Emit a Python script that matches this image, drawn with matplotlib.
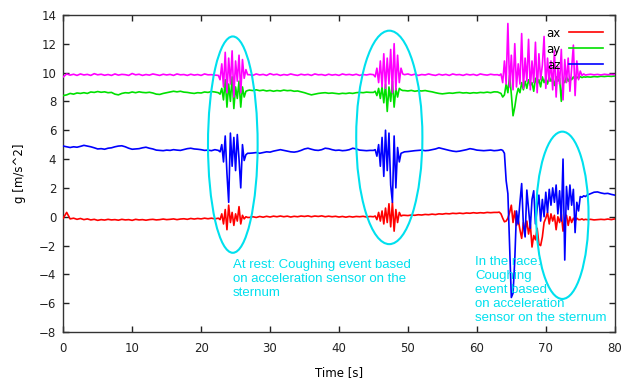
import numpy as np
import matplotlib
matplotlib.use("Agg")
import matplotlib.pyplot as plt
from matplotlib.patches import Ellipse

# Time base [s]: 0.5 s where the signal is quiet, 0.25 s around the cough events
time_s = np.concatenate([
    np.arange(0, 22.5, 0.5),      # 0 .. 22
    np.arange(22.5, 27, 0.25),    # 22.5 .. 26.75  (cough 1)
    np.arange(27, 45, 0.5),       # 27 .. 44.5
    np.arange(45, 49.5, 0.25),    # 45 .. 49.25    (cough 2)
    np.arange(49.5, 63, 0.5),     # 49.5 .. 62.5
    np.arange(63, 76, 0.25),      # 63 .. 75.75    (race)
    np.arange(76, 80.5, 0.5),     # 76 .. 80
])

ax_vals = [
    -0.1, 0.3, -0.15, -0.1, -0.18, -0.12, -0.2, -0.15, -0.22, -0.18,
    -0.25, -0.2, -0.23, -0.18, -0.22, -0.2, -0.24, -0.18, -0.22, -0.2,
    -0.25, -0.18, -0.22, -0.2, -0.24, -0.2, -0.18, -0.22, -0.2, -0.16,
    -0.2, -0.18, -0.15, -0.2, -0.16, -0.14, -0.18, -0.12, -0.16, -0.12,
    -0.15, -0.1, -0.14, -0.1, -0.15,
    -0.1, -0.2,
    0.2, -0.5, 0.5, -0.9,
    0.8, -0.4, 0.3, -0.6,
    0.2, -0.3, 0.7, -0.5,
    0.1, -0.15, 0.0, -0.05,
    -0.05, 0.0, -0.05, 0.02, -0.03, 0.03, -0.02, 0.04, 0.0, 0.05,
    0.0, 0.04, -0.02, 0.03, 0.0, 0.05, 0.02, 0.06, 0.0, 0.05,
    0.02, 0.06, 0.0, 0.04, 0.0, 0.03, -0.02, 0.02, -0.03, 0.02,
    -0.02, 0.02, 0.0, 0.03, -0.02, 0.02,
    0.0, 0.05, -0.2, 0.3,
    -0.3, 0.4, -0.5, 0.6,
    -0.4, 0.9, -0.7, 1.0,
    -1.0, 0.5, -0.4, 0.3,
    0.05, 0.1,
    0.1, 0.08, 0.12, 0.1, 0.14, 0.12, 0.16, 0.14, 0.18, 0.15,
    0.2, 0.18, 0.22, 0.2, 0.24, 0.22, 0.25, 0.22, 0.26, 0.24,
    0.28, 0.25, 0.28, 0.26, 0.3, 0.28, 0.3,
    0.3, 0.32, 0.2, -0.1,
    -0.35, -0.3, -0.1, 0.3,
    0.8, -0.4, 0.4, -0.6,
    -0.2, -0.9, -1.5, -0.4,
    -1.0, -0.3, -1.2, -0.5,
    -2.1, -1.3, -1.6, -0.8,
    -1.9, -2.0, -1.4, -0.4,
    -0.1, 0.3, -0.5, 0.2,
    -0.3, 0.1, -0.9, 0.0,
    -0.4, 0.2, -1.0, -0.2,
    0.1, -0.6, 0.0, -0.4,
    -0.1, -0.3, -0.1, -0.2,
    -0.2, -0.15, -0.22, -0.18,
    -0.2, -0.18, -0.22, -0.2, -0.18, -0.2, -0.16, -0.2, -0.15,
]

ay_vals = [
    8.4, 8.45, 8.55, 8.5, 8.58, 8.55, 8.6, 8.55, 8.65, 8.62,
    8.68, 8.63, 8.66, 8.6, 8.62, 8.5, 8.45, 8.55, 8.6, 8.58,
    8.65, 8.6, 8.66, 8.62, 8.6, 8.63, 8.58, 8.5, 8.48, 8.55,
    8.6, 8.65, 8.7, 8.66, 8.7, 8.64, 8.62, 8.58, 8.55, 8.6,
    8.58, 8.65, 8.62, 8.68, 8.65,
    8.6, 8.5,
    8.9, 8.1, 9.5, 7.6,
    9.2, 8.0, 9.7, 7.5,
    9.0, 8.2, 9.4, 7.6,
    9.0, 8.3, 8.7, 8.75,
    8.78, 8.75, 8.8, 8.74, 8.78, 8.72, 8.76, 8.7, 8.75, 8.72,
    8.78, 8.74, 8.76, 8.7, 8.72, 8.66, 8.6, 8.52, 8.45, 8.5,
    8.55, 8.58, 8.6, 8.56, 8.58, 8.55, 8.52, 8.56, 8.54, 8.58,
    8.55, 8.6, 8.62, 8.6, 8.64, 8.62,
    8.62, 8.7, 8.4, 8.9,
    8.2, 9.0, 7.9, 9.2,
    7.3, 9.0, 8.0, 9.4,
    7.6, 8.9, 8.3, 8.9,
    8.8, 8.75,
    8.75, 8.72, 8.76, 8.7, 8.74, 8.72, 8.75, 8.7, 8.66, 8.6,
    8.55, 8.52, 8.55, 8.58, 8.56, 8.6, 8.62, 8.58, 8.6, 8.56,
    8.6, 8.58, 8.62, 8.6, 8.64, 8.6, 8.66,
    8.65, 8.6, 8.55, 8.3,
    8.45, 9.2, 8.6, 9.8,
    8.5, 7.0, 7.6, 8.4,
    8.9, 8.6, 9.3, 8.8,
    9.4, 8.9, 9.5, 9.1,
    9.3, 8.7, 9.6, 9.2,
    9.5, 9.0, 9.7, 9.3,
    9.6, 9.2, 9.7, 9.4,
    9.6, 9.1, 9.7, 9.4,
    9.6, 8.0, 9.5, 9.3,
    9.7, 9.4, 9.65, 9.5,
    9.7, 9.5, 9.7, 9.6,
    9.72, 9.65, 9.7, 9.68,
    9.7, 9.68, 9.72, 9.7, 9.74, 9.72, 9.75, 9.73, 9.76,
]

az_vals = [
    4.9, 4.85, 4.8, 4.85, 4.82, 4.88, 4.95, 4.9, 4.85, 4.78,
    4.7, 4.72, 4.68, 4.75, 4.78, 4.85, 4.9, 4.92, 4.85, 4.75,
    4.68, 4.7, 4.72, 4.78, 4.82, 4.75, 4.7, 4.62, 4.6, 4.58,
    4.62, 4.6, 4.65, 4.62, 4.6, 4.66, 4.72, 4.75, 4.7, 4.68,
    4.65, 4.6, 4.62, 4.58, 4.65,
    4.6, 4.5,
    5.0, 3.8, 5.6, 3.0,
    1.0, 5.8, 3.5, 5.5,
    3.2, 5.7, 4.0, 2.0,
    5.0, 3.9, 4.3, 4.4,
    4.4, 4.42, 4.45, 4.4, 4.45, 4.5, 4.48, 4.55, 4.6, 4.65,
    4.6, 4.55, 4.5, 4.48, 4.52, 4.6, 4.7, 4.75, 4.68, 4.62,
    4.6, 4.65, 4.75, 4.72, 4.65, 4.6, 4.62, 4.58, 4.6, 4.65,
    4.75, 4.7, 4.62, 4.6, 4.58, 4.6,
    4.6, 4.65, 4.2, 5.0,
    3.5, 5.5, 2.8, 6.0,
    3.2, 5.8, 2.2, 1.0,
    5.6, 2.0, 4.8, 3.8,
    4.4, 4.45,
    4.5, 4.52, 4.55, 4.58, 4.6, 4.62, 4.58, 4.6, 4.65, 4.7,
    4.78, 4.72, 4.66, 4.6, 4.55, 4.52, 4.55, 4.6, 4.65, 4.72,
    4.68, 4.62, 4.6, 4.58, 4.6, 4.62, 4.58,
    4.6, 4.62, 4.65, 4.6,
    4.4, 2.5, 1.6, -2.0,
    -5.6, -5.3, -3.0, 0.4,
    -0.5, 1.0, 2.3, -0.6,
    -1.4, 1.85, 0.5, -0.8,
    1.2, 1.8, -0.5, 0.6,
    1.5, -0.3, 1.2, 0.0,
    1.7, 0.3, 1.9, 0.8,
    2.0, 1.0, 2.2, 0.2,
    1.8, -0.3, 4.0, -3.0,
    2.1, 0.5, 2.2, 0.8,
    1.9, -1.1, 1.0, 0.4,
    1.4, 1.35, 1.45, 1.4,
    1.5, 1.6, 1.7, 1.72, 1.65, 1.6, 1.62, 1.55, 1.5,
]

atot_vals = [
    9.7, 9.9, 9.82, 9.88, 9.8, 9.9, 9.83, 9.87, 9.8, 9.92,
    9.84, 9.88, 9.81, 9.86, 9.8, 9.9, 9.82, 9.87, 9.85, 9.8,
    9.93, 9.84, 9.88, 9.8, 9.86, 9.82, 9.9, 9.85, 9.8, 9.88,
    9.83, 9.87, 9.8, 9.9, 9.84, 9.86, 9.8, 9.88, 9.82, 9.86,
    9.8, 9.9, 9.84, 9.85, 9.82,
    9.8, 9.5,
    10.6, 9.0, 11.4, 8.6,
    11.0, 9.2, 11.5, 8.3,
    10.8, 9.4, 11.2, 8.6,
    10.9, 9.6, 10.2, 9.85,
    9.85, 9.8, 9.9, 9.83, 9.87, 9.8, 9.92, 9.84, 9.88, 9.8,
    9.86, 9.82, 9.9, 9.84, 9.8, 9.88, 9.83, 9.87, 9.8, 9.9,
    9.84, 9.86, 9.8, 9.88, 9.82, 9.86, 9.8, 9.9, 9.84, 9.87,
    9.82, 9.88, 9.8, 9.86, 9.83, 9.88,
    9.85, 9.7, 10.3, 9.3,
    10.8, 9.0, 11.3, 8.9,
    11.0, 9.2, 11.6, 8.6,
    12.0, 8.8, 11.2, 9.3,
    10.3, 9.9,
    9.85, 9.9, 9.82, 9.88, 9.8, 9.86, 9.83, 9.9, 9.84, 9.8,
    9.88, 9.82, 9.87, 9.8, 9.9, 9.84, 9.86, 9.8, 9.88, 9.83,
    9.87, 9.8, 9.9, 9.85, 9.82, 9.88, 9.84,
    9.85, 9.8, 9.9, 9.3,
    10.8, 9.2, 13.4, 9.0,
    11.2, 8.8, 12.0, 9.0,
    10.6, 9.2, 12.7, 8.9,
    11.0, 9.4, 12.3, 8.8,
    10.8, 9.3, 12.1, 8.6,
    11.3, 9.5, 10.5, 12.5,
    8.9, 11.0, 9.4, 10.8,
    8.8, 11.5, 8.3, 10.4,
    9.2, 11.6, 8.1, 10.9,
    9.3, 11.0, 8.7, 10.3,
    11.9, 8.4, 10.8, 9.5,
    10.1, 9.8, 9.9, 9.82,
    9.85, 9.88, 9.84, 9.87, 9.83, 9.88, 9.85, 9.87, 9.85,
]

# cough events marked on the chart: (centre t, centre g, width, height)
events = [(24.6, 5.0, 7.2, 15.0), (47.3, 5.5, 9.6, 14.8), (72.4, 0.1, 7.6, 11.6)]
notes = [
    (24.6, -2.95, "At rest: Coughing event based\non acceleration sensor on the\nsternum"),
    (59.8, -2.75, "In the race:\nCoughing\nevent based\non acceleration\nsensor on the sternum"),
]

cyan = "#00e0ee"

fig = plt.figure(figsize=(6.26, 3.8), dpi=100)
ax = fig.add_axes([0.101, 0.126, 0.881, 0.835])

ax.plot(time_s, ax_vals, color="#ff0000", lw=1.2, label="ax", zorder=3)
ax.plot(time_s, ay_vals, color="#00e000", lw=1.2, label="ay", zorder=3)
ax.plot(time_s, az_vals, color="#0000ff", lw=1.2, label="az", zorder=3)
ax.plot(time_s, atot_vals, color="#ff00ff", lw=1.2, zorder=3)

for cx, cy, w, h in events:
    ax.add_patch(Ellipse((cx, cy), w, h, fill=False, edgecolor=cyan, lw=1.5, zorder=4))

for x, y, txt in notes:
    ax.text(x, y, txt, color=cyan, fontsize=9.5, family="Liberation Sans",
            ha="left", va="top", linespacing=1.2, zorder=5)

ax.set_xlim(0, 80)
ax.set_ylim(-8, 14)
ax.set_xticks(np.arange(0, 81, 10))
ax.set_yticks(np.arange(-8, 15, 2))
ax.tick_params(direction="in", length=4, width=1, top=True, right=True,
               labelsize=8.5, colors="#222222")
ax.tick_params(axis="x", pad=7)
ax.tick_params(axis="y", pad=5)
for s in ax.spines.values():
    s.set_color("#333333")
    s.set_linewidth(1)

ax.set_xlabel("Time [s]", fontsize=8.5, labelpad=8)
ax.set_ylabel("g [m/s^2]", fontsize=8.5, labelpad=9)

leg = ax.legend(loc="upper right", frameon=False, markerfirst=False,
                fontsize=8.5, handlelength=2.9, labelspacing=0.25,
                borderaxespad=0.6, handletextpad=0.7)
leg.set_zorder(6)

fig.savefig("out.png", dpi=100)
